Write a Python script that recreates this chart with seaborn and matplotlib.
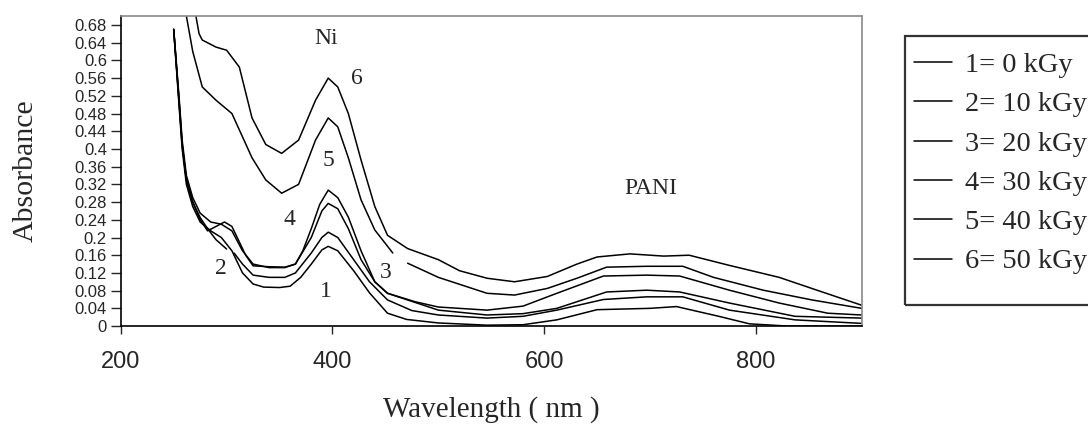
import pandas as pd
import matplotlib.pyplot as plt
import seaborn as sns
from matplotlib.lines import Line2D
from matplotlib.patches import Rectangle

# UV-vis spectra (wavelength nm, absorbance)
# curves 2 and 5 have a small gap in the original, so they are split in two segments
wl1 = [250, 255, 258, 262, 268, 275, 285, 295, 305, 315, 325, 335, 350, 360, 370, 380, 390, 396,
       405, 420, 435, 452, 470, 500, 546, 580, 612, 650, 700, 725, 765, 794, 830, 900]
ab1 = [0.67, 0.50, 0.40, 0.32, 0.27, 0.235, 0.215, 0.20, 0.17, 0.12, 0.095, 0.088, 0.087, 0.09,
       0.11, 0.14, 0.172, 0.18, 0.17, 0.125, 0.075, 0.029, 0.015, 0.007, 0.002, 0.003, 0.014,
       0.037, 0.04, 0.044, 0.022, 0.005, 0.0, 0.0]

wl2a = [250, 255, 258, 262, 268, 275, 282, 290, 300]
ab2a = [0.67, 0.51, 0.41, 0.33, 0.28, 0.245, 0.22, 0.195, 0.174]
wl2b = [307, 315, 325, 340, 355, 365, 380, 390, 396, 405, 420, 435, 452, 475, 500, 546, 580,
        612, 656, 697, 731, 775, 837, 900]
ab2b = [0.165, 0.14, 0.115, 0.11, 0.11, 0.12, 0.165, 0.20, 0.212, 0.20, 0.15, 0.10, 0.059,
        0.035, 0.025, 0.018, 0.022, 0.036, 0.06, 0.066, 0.066, 0.036, 0.014, 0.006]

wl3 = [250, 255, 258, 262, 268, 275, 285, 295, 305, 315, 325, 340, 355, 365, 380, 390, 396,
       405, 415, 427, 440, 452, 500, 546, 580, 612, 659, 697, 728, 775, 837, 900]
ab3 = [0.67, 0.52, 0.42, 0.34, 0.29, 0.255, 0.235, 0.23, 0.215, 0.17, 0.14, 0.132, 0.132,
       0.14, 0.20, 0.26, 0.277, 0.265, 0.22, 0.15, 0.10, 0.074, 0.036, 0.025, 0.028, 0.04,
       0.077, 0.081, 0.077, 0.052, 0.022, 0.018]

wl4 = [250, 255, 258, 262, 268, 275, 282, 290, 298, 305, 312, 318, 325, 340, 355, 365, 372,
       380, 388, 396, 405, 415, 427, 440, 452, 478, 500, 546, 580, 612, 656, 697, 728, 775,
       822, 868, 900]
ab4 = [0.67, 0.51, 0.41, 0.33, 0.28, 0.24, 0.215, 0.225, 0.235, 0.225, 0.19, 0.16, 0.136,
       0.134, 0.133, 0.14, 0.17, 0.22, 0.275, 0.307, 0.29, 0.246, 0.17, 0.10, 0.074, 0.055,
       0.043, 0.036, 0.045, 0.074, 0.113, 0.115, 0.113, 0.081, 0.052, 0.029, 0.025]

wl5a = [258, 262, 268, 277, 290, 305, 324, 337, 352, 368, 384, 396, 405, 415, 427, 440, 457]
ab5a = [0.80, 0.70, 0.62, 0.54, 0.51, 0.48, 0.38, 0.33, 0.30, 0.32, 0.42, 0.47, 0.45, 0.38,
        0.285, 0.217, 0.165]
wl5b = [471, 500, 546, 572, 603, 631, 659, 697, 731, 760, 807, 853, 900]
ab5b = [0.142, 0.11, 0.074, 0.07, 0.085, 0.108, 0.133, 0.135, 0.135, 0.11, 0.081, 0.059, 0.04]

wl6 = [266, 271, 274, 277, 290, 300, 312, 324, 337, 352, 368, 384, 396, 405, 415, 427, 440,
       452, 471, 500, 520, 546, 572, 603, 631, 650, 681, 713, 737, 775, 822, 859, 900]
ab6 = [0.78, 0.70, 0.66, 0.646, 0.63, 0.623, 0.585, 0.47, 0.41, 0.39, 0.42, 0.51, 0.56, 0.54,
       0.48, 0.375, 0.27, 0.205, 0.175, 0.15, 0.125, 0.108, 0.10, 0.112, 0.14, 0.156, 0.163,
       0.158, 0.16, 0.137, 0.11, 0.08, 0.047]

legend_labels = ['1= 0 kGy', '2= 10 kGy', '3= 20 kGy', '4= 30 kGy', '5= 40 kGy', '6= 50 kGy']

segments = [(1, 'a', wl1, ab1), (2, 'a', wl2a, ab2a), (2, 'b', wl2b, ab2b),
            (3, 'a', wl3, ab3), (4, 'a', wl4, ab4),
            (5, 'a', wl5a, ab5a), (5, 'b', wl5b, ab5b), (6, 'a', wl6, ab6)]
frames = []
for curve, seg, w, a in segments:
    frames.append(pd.DataFrame({'curve': curve, 'seg': f'{curve}{seg}',
                                'wavelength': w, 'absorbance': a}))
df = pd.concat(frames, ignore_index=True)

sns.set_style('white')
serif = ['Liberation Serif', 'DejaVu Serif']
sans = ['Liberation Sans', 'DejaVu Sans']

fig = plt.figure(figsize=(10.88, 4.24), dpi=100)
ax = fig.add_axes([0.111, 0.231, 0.681, 0.731])

sns.lineplot(data=df, x='wavelength', y='absorbance', hue='curve', units='seg',
             estimator=None, sort=False, palette=['black'] * 6, linewidth=1.1,
             legend=False, ax=ax)

ax.set_xlim(200, 900)
ax.set_ylim(0, 0.70)
yt = [round(0.04 * i, 2) for i in range(18)]
ax.set_yticks(yt)
ax.set_yticklabels([f'{v:g}' for v in yt], family=sans, fontsize=12)
ax.set_xticks([200, 400, 600, 800])
ax.set_xticklabels(['200', '400', '600', '800'], family=sans, fontsize=17)
ax.tick_params(axis='y', direction='out', length=7, width=1, pad=3, left=True)
ax.tick_params(axis='x', direction='out', length=6, width=1, pad=12, bottom=True)

ax.set_xlabel('Wavelength ( nm )', family=serif, fontsize=21)
ax.set_ylabel('Absorbance', family=serif, fontsize=21.5)
ax.xaxis.set_label_coords(0.5, -0.268)
ax.xaxis.label.set_va('center')
ax.yaxis.set_label_coords(-0.128, 0.5)
ax.yaxis.label.set_va('center')

for s in ['left', 'bottom']:
    ax.spines[s].set_color('black')
    ax.spines[s].set_linewidth(1.2)
for s in ['top', 'right']:
    ax.spines[s].set_color('#8a8a8a')
    ax.spines[s].set_linewidth(1.2)

# annotations on the curves
ax.text(394, 0.65, 'Ni', family=serif, fontsize=17, ha='center', va='center')
ax.text(423, 0.56, '6', family=serif, fontsize=17, ha='center', va='center')
ax.text(396, 0.375, '5', family=serif, fontsize=17, ha='center', va='center')
ax.text(359, 0.24, '4', family=serif, fontsize=17, ha='center', va='center')
ax.text(450, 0.122, '3', family=serif, fontsize=17, ha='center', va='center')
ax.text(295, 0.13, '2', family=serif, fontsize=17, ha='center', va='center')
ax.text(394, 0.077, '1', family=serif, fontsize=17, ha='center', va='center')
ax.text(701, 0.31, 'PANI', family=serif, fontsize=17, ha='center', va='center')

# legend box (runs off the right edge like the original)
fig.add_artist(Rectangle((905 / 1088, 1 - 305 / 424), 0.3, 269 / 424,
                         transform=fig.transFigure, fill=False,
                         edgecolor='#333333', linewidth=1.6))
handles = [Line2D([], [], color='black', linewidth=1.1) for _ in legend_labels]
fig.legend(handles, legend_labels, loc='upper left',
           bbox_to_anchor=(914 / 1088, 1 - 52 / 424), frameon=False,
           prop={'family': serif, 'size': 20.5}, handlelength=1.35,
           handletextpad=0.45, labelspacing=0.47, borderpad=0, borderaxespad=0)

fig.savefig('out.png', dpi=100)
